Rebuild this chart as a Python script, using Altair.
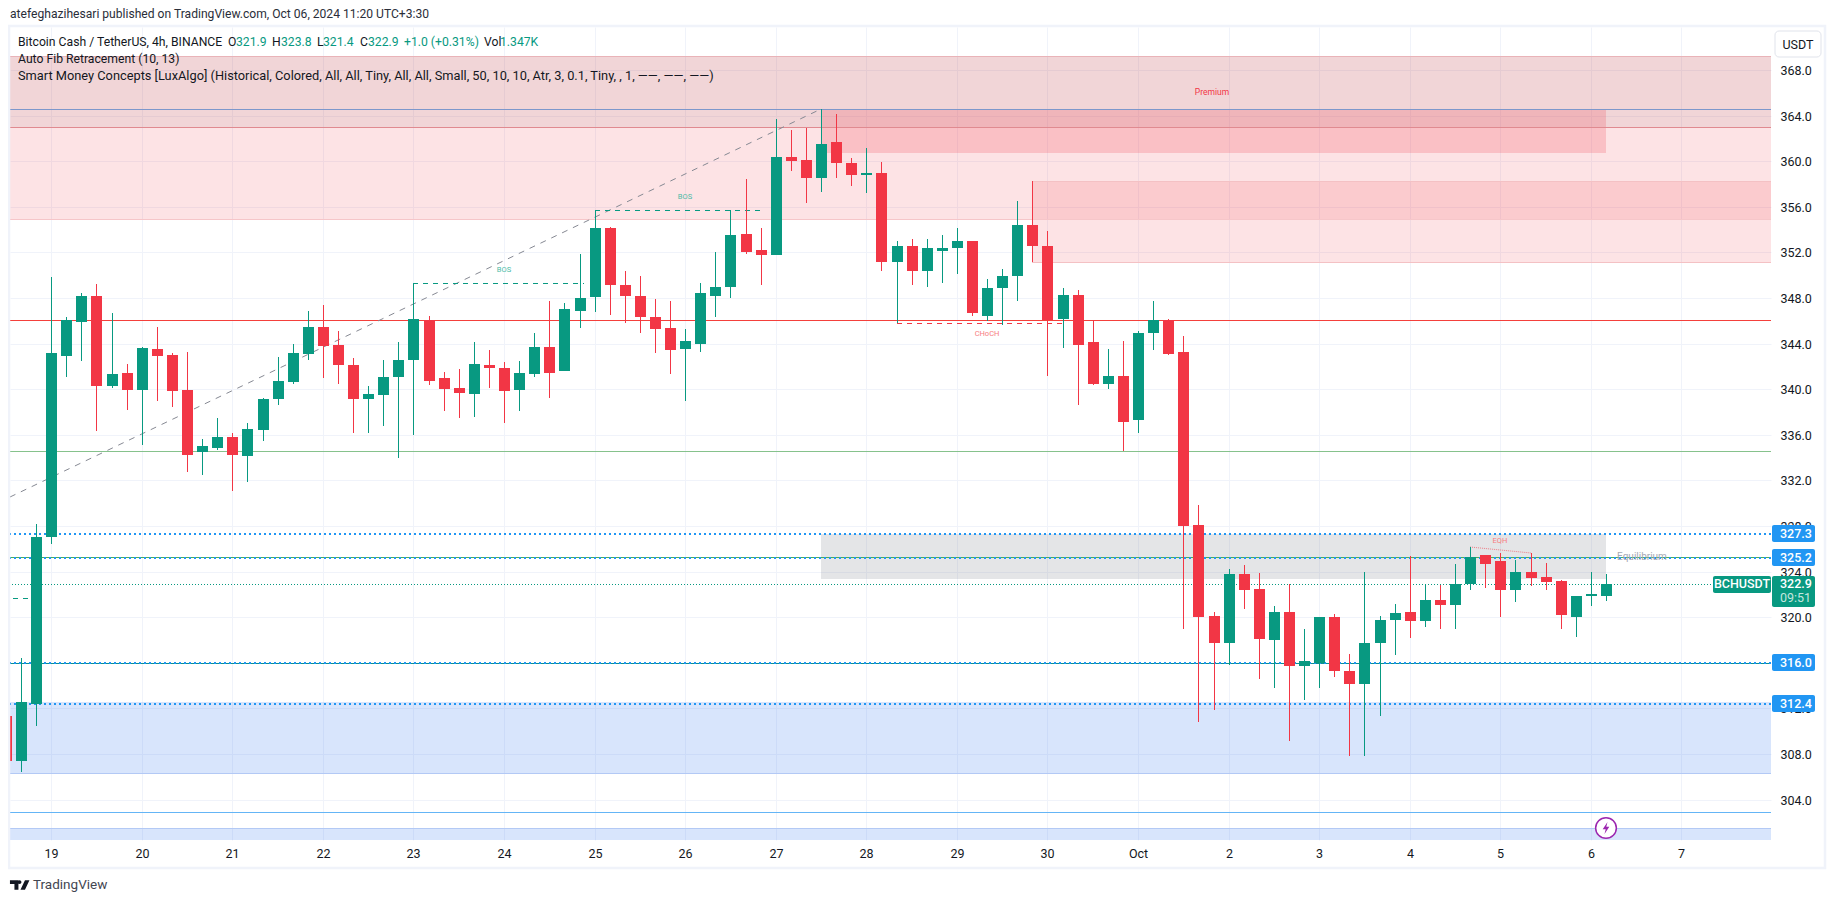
import altair as alt
import pandas as pd

# ---------- candles (4h bars; bar 0 is the 19th, six bars per day) ----------
opens = [311.3,307.4,312.4,327.0,342.9,345.9,348.2,340.3,341.4,339.9,343.5,343.0,339.9,334.5,334.8,335.8,334.1,336.4,339.1,340.6,343.1,345.5,343.9,342.1,339.1,339.5,341.1,342.6,346.1,341.0,340.1,339.6,342.1,341.9,339.9,341.3,343.7,341.6,346.9,348.1,354.1,349.1,348.2,346.3,345.4,343.5,344.0,348.2,349.0,353.6,352.2,351.8,360.4,360.1,358.5,361.7,359.8,358.8,359.0,351.2,352.6,350.4,352.1,352.4,353.0,346.4,348.9,349.9,354.4,352.6,346.2,348.3,344.1,340.5,341.2,337.3,344.9,346.1,343.3,328.1,320.1,317.7,323.8,322.5,318.0,320.5,315.7,316.0,320.0,315.3,314.1,317.7,319.8,320.5,319.7,321.5,321.1,322.9,325.5,324.9,322.4,324.0,323.5,323.2,320.0,321.9,321.9]
highs = [311.3,316.4,328.2,349.8,346.3,348.4,349.2,346.7,342.2,343.7,345.5,343.2,343.3,335.6,337.5,336.2,337.0,339.2,342.8,344.0,346.9,347.4,345.1,342.7,340.3,342.6,344.1,349.3,346.4,341.5,341.8,344.1,343.4,342.4,342.5,344.9,347.7,347.6,351.9,355.7,354.2,350.4,349.9,347.9,347.7,345.3,349.3,352.0,355.7,358.4,354.1,363.7,362.7,362.9,364.6,364.1,360.3,361.2,359.9,353.0,353.2,353.2,353.5,354.1,353.0,349.7,350.5,356.5,358.3,353.9,348.9,348.7,346.1,343.5,344.2,345.1,347.7,346.2,344.7,329.8,320.5,324.2,324.6,323.9,321.0,322.9,319.0,320.0,320.3,316.8,324.0,320.1,321.2,325.4,322.9,322.8,324.7,326.2,325.5,325.6,325.0,325.6,324.8,323.3,321.9,324.0,323.8]
lows = [307.4,306.4,310.5,326.4,341.1,342.5,336.3,340.1,338.2,335.1,339.0,338.4,332.7,332.5,334.7,331.1,331.9,335.5,338.6,340.5,342.6,341.0,340.5,336.2,336.2,336.8,334.0,336.0,340.4,338.1,337.5,337.6,340.1,337.0,338.1,341.1,339.2,341.6,345.4,346.8,346.5,345.8,344.9,343.2,341.3,339.0,343.3,346.3,348.0,351.9,349.1,351.8,359.1,356.3,357.3,358.5,357.8,357.2,350.4,345.8,349.1,349.0,349.3,350.1,346.4,346.0,345.6,347.7,351.2,341.2,343.6,338.6,340.4,340.0,334.6,336.2,343.4,343.0,319.0,310.8,311.9,315.8,320.7,314.6,313.8,309.1,312.7,313.8,314.8,307.8,307.8,311.3,316.7,318.2,319.1,319.0,319.0,322.4,322.6,320.0,321.3,322.7,322.4,319.0,318.3,321.0,321.4]
closes = [307.4,312.6,327.0,343.2,346.1,348.2,340.3,341.3,339.9,343.6,342.9,339.8,334.2,335.0,335.8,334.2,336.5,339.1,340.7,343.2,345.5,343.8,342.1,339.1,339.6,341.1,342.6,346.2,340.7,340.0,339.7,342.2,341.9,339.8,341.4,343.7,341.4,347.0,348.0,354.1,349.1,348.2,346.3,345.3,343.4,344.2,348.4,349.0,353.5,352.0,351.8,360.4,360.0,358.5,361.5,359.8,358.8,359.0,351.2,352.6,350.4,352.4,352.4,353.0,346.7,348.9,349.9,354.4,352.6,346.1,348.3,343.9,340.5,341.2,337.1,344.9,346.1,343.1,328.0,320.0,317.7,323.8,322.4,318.1,320.5,315.7,316.2,320.0,315.3,314.1,317.7,319.8,320.4,319.7,321.5,321.1,322.9,325.3,324.7,322.4,324.0,323.4,323.1,320.2,321.9,322.0,322.9]
first_bar = -3

# ---------- axes ----------
price_ticks = [304,308,312,316,320,324,328,332,336,340,344,348,352,356,360,364,368]
day_labels = ["19","20","21","22","23","24","25","26","27","28","29","30","Oct","2","3","4","5","6","7"]
bars_per_day = 6
x_left, x_right = -2.729, 113.93
x_domain = [x_left, x_right]
y_domain = [300.46, 371.77]

# ---------- zones: bar from, bar to, price top, price bottom ----------
zone_names = ["fib", "premium", "ob1", "ob2", "equilibrium", "discount", "discount2"]
zone_x0 = [x_left, x_left, 51, 65, 51, x_left, x_left]
zone_x1 = [x_right, x_right, 103, x_right, 103, x_right, x_right]
zone_top = [369.2, 369.2, 364.62, 358.27, 327.3, 312.56, 301.5]
zone_bot = [354.96, 362.97, 360.75, 351.16, 323.35, 306.3, 300.46]
zone_color = ["#f23645", "#9a7070", "#f23645", "#f23645", "#787b86", "#2e74f0", "#2e74f0"]
zone_alpha = [0.14, 0.12, 0.20, 0.14, 0.20, 0.19, 0.19]

# ---------- horizontal levels ----------
level_price = [369.2, 354.96, 364.62, 362.97, 346.05, 334.55, 325.3, 316.0, 306.3, 302.9, 301.5]
level_color = ["#e9b3b8", "#f6c6c9", "#7d97cb", "#e08a90", "#f4403b", "#86c28c", "#4caf50", "#0a8f8f", "#b3c9f5", "#64b5f6", "#b3c9f5"]
dotted_price = [327.3, 325.2, 316.0, 312.4]
last_price = 322.9

# ---------- structure lines ----------
fib_x = [x_left, 51]
fib_p = [330.57, 364.62]
seg_name = ["bos1", "bos1", "bos2", "bos2", "choch", "choch", "tail", "tail"]
seg_x = [24, 35.3, 36, 47.3, 56, 67.3, -2.5, -1.4]
seg_p = [349.29, 349.29, 355.69, 355.69, 345.78, 345.78, 321.7, 321.7]
seg_color = ["#089981", "#089981", "#089981", "#089981", "#f23645", "#f23645", "#089981", "#089981"]
eqh_x = [94, 98]
eqh_p = [326.15, 325.63]
edge_name = ["top", "top", "bottom", "bottom"]
edge_x = [65, x_right, 65, x_right]
edge_p = [358.27, 358.27, 351.16, 351.16]

# ---------- labels ----------
note_text = ["BOS", "BOS", "CHoCH", "EQH", "Premium", "Equilibrium"]
note_x = [30, 42, 62, 96, 76.9, 105.4]
note_p = [350.45, 356.83, 344.82, 326.7, 366.03, 325.3]
note_color = ["#4dbba6", "#4dbba6", "#f77c80", "#f77c80", "#f23645", "#a6a9b3"]
note_size = [7.5, 7.5, 7.5, 7.5, 8.5, 10]

tag_price = [327.3, 325.2, 316.0, 312.4]
tag_text = ["327.3", "325.2", "316.0", "312.4"]

UI_FONT = "Roboto"
GREEN, RED = "#089981", "#f23645"
INK = "#131722"
PX = 11.4  # pixels per price unit, only used to size the price tags

candles = pd.DataFrame({"i": range(first_bar, first_bar + len(opens)), "o": opens, "h": highs, "l": lows, "c": closes})
candles["top"] = candles[["o", "c"]].max(axis=1)
candles["bot"] = candles[["o", "c"]].min(axis=1)
candles["dir"] = ["up" if c >= o else "down" for o, c in zip(opens, closes)]

zones = pd.DataFrame({"n": zone_names, "x0": zone_x0, "x1": zone_x1, "t": zone_top, "b": zone_bot, "col": zone_color, "a": zone_alpha})
levels = pd.DataFrame({"p": level_price, "col": level_color})

xs = alt.Scale(domain=x_domain, nice=False, zero=False, round=True, padding=0)
ys = alt.Scale(domain=y_domain, nice=False, zero=False, round=True, padding=0)
X = alt.X("i:Q", scale=xs, title=None)
Y = alt.Y("p:Q", scale=ys, title=None)
col_none = alt.Color("col:N", scale=None, legend=None)

label_lookup = "[" + ",".join(f"'{d}'" for d in day_labels) + "][datum.value/" + str(bars_per_day) + "]"
zone_layer = alt.Chart(zones).mark_rect(clip=True).encode(
    x=alt.X("x0:Q", scale=xs, title=None, axis=alt.Axis(
        values=[k * bars_per_day for k in range(len(day_labels))], labelExpr=label_lookup,
        grid=True, gridColor="#f0f3fa", gridWidth=1, domain=False, ticks=False, labelPadding=7,
        labelFont=UI_FONT, labelFontSize=12.5, labelColor=INK, labelOverlap=False, labelFlush=False)),
    x2="x1:Q",
    y=alt.Y("t:Q", scale=ys, title=None, axis=alt.Axis(
        orient="right", values=price_ticks, format=".1f",
        grid=True, gridColor="#f0f3fa", gridWidth=1, domain=False, ticks=False, labelPadding=9,
        labelFont=UI_FONT, labelFontSize=12.5, labelColor=INK, labelOverlap=False, labelFlush=False)),
    y2="b:Q",
    color=col_none,
    opacity=alt.Opacity("a:Q", scale=None, legend=None),
)

level_layer = alt.Chart(levels).mark_rule(clip=True, strokeWidth=1, yOffset=0.5).encode(y=Y, color=col_none)

edge_layer = alt.Chart(pd.DataFrame({"n": edge_name, "i": edge_x, "p": edge_p})).mark_line(
    clip=True, color="#f4c1c4", strokeWidth=1, yOffset=0.5).encode(x=X, y=Y, detail="n:N")

dotted_layer = alt.Chart(pd.DataFrame({"p": dotted_price})).mark_rule(
    clip=True, color="#2196f3", strokeWidth=2, strokeDash=[2, 3]).encode(y=Y)
last_layer = alt.Chart(pd.DataFrame({"p": [last_price]})).mark_rule(
    clip=True, color=GREEN, strokeWidth=1, strokeDash=[1, 2], yOffset=0.5).encode(y=Y)

fib_layer = alt.Chart(pd.DataFrame({"i": fib_x, "p": fib_p})).mark_line(
    clip=True, color="#868993", strokeWidth=1, strokeDash=[6, 6]).encode(x=X, y=Y)

seg_layer = alt.Chart(pd.DataFrame({"n": seg_name, "i": seg_x, "p": seg_p, "col": seg_color})).mark_line(
    clip=True, strokeWidth=1, strokeDash=[5, 5], yOffset=0.5).encode(x=X, y=Y, detail="n:N", color=col_none)
eqh_layer = alt.Chart(pd.DataFrame({"i": eqh_x, "p": eqh_p})).mark_line(
    clip=True, color="#f23645", opacity=0.6, strokeWidth=1, strokeDash=[1, 1]).encode(x=X, y=Y)

notes = pd.DataFrame({"i": note_x, "p": note_p, "t": note_text, "col": note_color, "s": note_size})
note_layer = alt.Chart(notes).mark_text(font=UI_FONT).encode(
    x=X, y=Y, text="t:N", color=col_none, size=alt.Size("s:Q", scale=None, legend=None))

cs = alt.Color("dir:N", scale=alt.Scale(domain=["up", "down"], range=[GREEN, RED]), legend=None)
wick_layer = alt.Chart(candles).mark_rule(clip=True, strokeWidth=1, xOffset=0.5).encode(
    x=X, y=alt.Y("l:Q", scale=ys, title=None), y2="h:Q", color=cs)
body_layer = alt.Chart(candles).mark_bar(clip=True, size=11, orient="vertical", xOffset=0.5).encode(
    x=X, y=alt.Y("bot:Q", scale=ys, title=None), y2="top:Q", color=cs)

# ---------- price scale furniture ----------
half_tag = 8.5 / PX
tags = pd.DataFrame({"p": tag_price, "t": tag_text,
                     "hi": [p + half_tag for p in tag_price], "lo": [p - half_tag for p in tag_price]})
tag_rect = alt.Chart(tags).mark_rect(color="#2196f3", cornerRadius=2).encode(
    x=alt.value(1762), x2=alt.value(1805), y=alt.Y("hi:Q", scale=ys, title=None), y2="lo:Q")
tag_text_layer = alt.Chart(tags).mark_text(
    color="white", font=UI_FONT, fontSize=12.5, fontWeight=500, align="left").encode(
    x=alt.value(1770), y=Y, text="t:N")

last_df = pd.DataFrame({"p": [last_price], "hi": [last_price + half_tag], "lo": [last_price - half_tag],
                        "lo2": [last_price - 22.5 / PX], "name": ["BCHUSDT"], "price": ["322.9"]})
name_rect = alt.Chart(last_df).mark_rect(color=GREEN, cornerRadius=2).encode(
    x=alt.value(1703), x2=alt.value(1761), y=alt.Y("hi:Q", scale=ys, title=None), y2="lo:Q")
name_text = alt.Chart(last_df).mark_text(color="white", font=UI_FONT, fontSize=12.5, fontWeight=500).encode(
    x=alt.value(1732), y=Y, text="name:N")
last_rect = alt.Chart(last_df).mark_rect(color=GREEN, cornerRadius=2).encode(
    x=alt.value(1762), x2=alt.value(1805), y=alt.Y("hi:Q", scale=ys, title=None), y2="lo2:Q")
last_text = alt.Chart(last_df).mark_text(color="white", font=UI_FONT, fontSize=12.5, fontWeight=500, align="left").encode(
    x=alt.value(1770), y=Y, text="price:N")
timer_df = pd.DataFrame({"p": [last_price - 14 / PX], "t": ["09:51"]})
timer_text = alt.Chart(timer_df).mark_text(color="#c4e6df", font=UI_FONT, fontSize=12.5, align="left").encode(
    x=alt.value(1770), y=Y, text="t:N")

anchor = alt.Data(values=[{}])
def px_text(text, x, y, color=INK, size=12.2, align="left", weight=400):
    return alt.Chart(anchor).mark_text(text=text, color=color, font=UI_FONT, fontSize=size,
                                       align=align, fontWeight=weight, baseline="middle").encode(
        x=alt.value(x), y=alt.value(y))

usdt_box = alt.Chart(anchor).mark_rect(fill="white", stroke="#e0e3eb", strokeWidth=1, cornerRadius=4).encode(
    x=alt.value(1765), x2=alt.value(1811), y=alt.value(4), y2=alt.value(30))
frame = alt.Chart(anchor).mark_rect(fill=None, stroke="#f0f3fa", strokeWidth=2.5).encode(
    x=alt.value(-1), x2=alt.value(1815), y=alt.value(-1), y2=alt.value(841))

# ---------- legend lines over the chart ----------
legend_parts = [
    ("Bitcoin Cash / TetherUS, 4h, BINANCE", 8, INK), ("O", 218, INK), ("321.9", 226, GREEN),
    ("H", 262, INK), ("323.8", 271, GREEN), ("L", 307, INK), ("321.4", 313, GREEN),
    ("C", 350, INK), ("322.9", 358, GREEN), ("+1.0 (+0.31%)", 394, GREEN),
    ("Vol", 474, INK), ("1.347K", 490, GREEN),
]
legend_layers = [px_text(t, x, 15, c) for t, x, c in legend_parts]
legend_layers.append(px_text("Auto Fib Retracement (10, 13)", 8, 32))
legend_layers.append(px_text(
    "Smart Money Concepts [LuxAlgo] (Historical, Colored, All, All, Tiny, All, All, Small, 50, 10, 10, Atr, 3, 0.1, Tiny, , 1, \u2014\u2014, \u2014\u2014, \u2014\u2014)",
    8, 48.5, size=12.8))

# ---------- icons ----------
bolt = "M0.25,-1 L-0.55,0.2 L-0.05,0.2 L-0.25,1 L0.55,-0.2 L0.05,-0.2 Z"
icon_df = pd.DataFrame({"i": [103], "p": [301.5]})
icon_ring = alt.Chart(icon_df).mark_point(shape="circle", size=430, filled=True, fill="white", stroke="#9c27b0",
                                          strokeWidth=1.5, opacity=1).encode(x=X, y=Y)
icon_bolt = alt.Chart(icon_df).mark_point(shape=bolt, size=144, filled=True, color="#9c27b0", opacity=1).encode(x=X, y=Y)

logo = ("M-1,-0.5 L-0.13,-0.5 L-0.13,0.5 L-0.54,0.5 L-0.54,-0.09 L-1,-0.09 Z "
        "M0.54,-0.5 L1,-0.5 L0.54,0.5 L0.08,0.5 Z "
        "M0.18,-0.3 A0.2,0.2 0 1 1 -0.22,-0.3 A0.2,0.2 0 1 1 0.18,-0.3 Z")
logo_mark = alt.Chart(anchor).mark_point(shape=logo, size=380, filled=True, color="#131722", opacity=1).encode(
    x=alt.value(9.7), y=alt.value(858))
logo_text = px_text("TradingView", 23, 858, color="#434651", size=13.5)

chart = alt.layer(
    zone_layer, edge_layer, level_layer, dotted_layer, last_layer, fib_layer, seg_layer, eqh_layer, note_layer,
    wick_layer, body_layer,
    tag_rect, tag_text_layer, name_rect, name_text, last_rect, last_text, timer_text,
    usdt_box, px_text("USDT", 1788, 17.5, align="center", size=12.5),
    frame, *legend_layers, icon_ring, icon_bolt, logo_mark, logo_text,
).properties(
    width=1761, height=813,
    padding={"left": 2, "top": 19, "right": 56, "bottom": 55},
    autosize=alt.AutoSizeParams(type="none"),
    background="white",
    title=alt.TitleParams(
        "atefeghazihesari published on TradingView.com, Oct 06, 2024 11:20 UTC+3:30",
        anchor="start", frame="group", dx=0, offset=5, font=UI_FONT, fontSize=12.1,
        fontWeight="normal", color="#2a2e39"),
).configure_view(stroke=None)

chart.save("out.html", embed_options={"renderer": "svg", "actions": False})
